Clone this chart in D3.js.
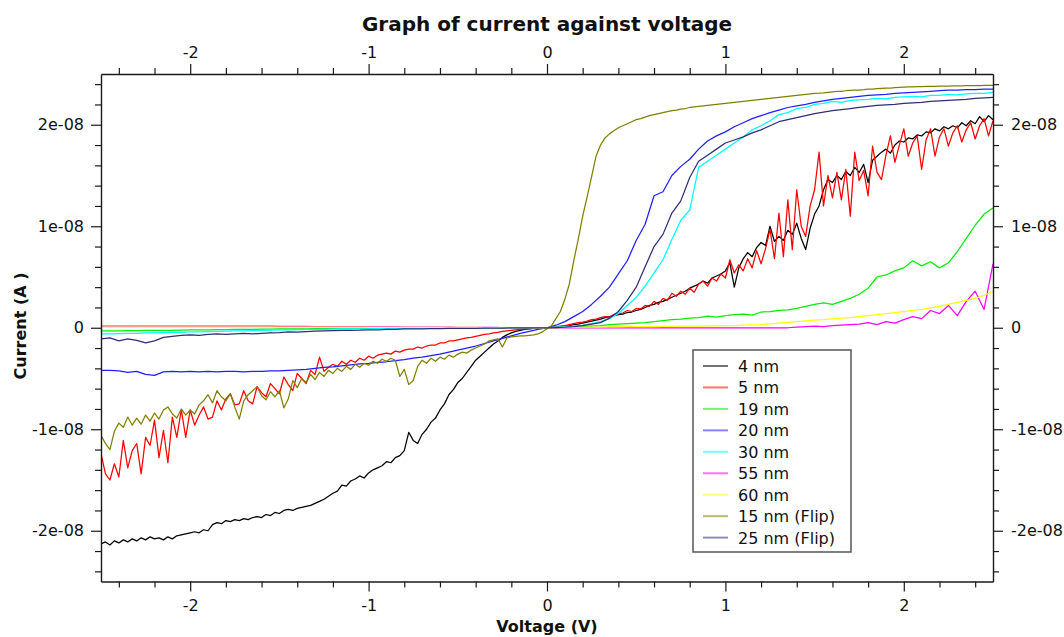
<!DOCTYPE html>
<html><head><meta charset="utf-8">
<script src="https://cdn.jsdelivr.net/npm/d3@7"></script>
<style>
html,body{margin:0;padding:0;background:#fff;}
svg text{font-family:"DejaVu Sans",Verdana,sans-serif;fill:#111;}
</style></head><body>
<svg id="chart" width="1064" height="637"></svg>
<script>
// ---------------- DATA (current in nA = 1e-9 A) ----------------
const voltage = [
-2.5,-2.45,-2.4,-2.35,-2.3,-2.25,-2.2,-2.15,-2.1,-2.05,
-2,-1.95,-1.9,-1.85,-1.8,-1.75,-1.7,-1.65,-1.6,-1.55,
-1.5,-1.45,-1.4,-1.35,-1.3,-1.25,-1.2,-1.15,-1.1,-1.05,
-1,-0.95,-0.9,-0.85,-0.8,-0.75,-0.7,-0.65,-0.6,-0.55,
-0.5,-0.45,-0.4,-0.35,-0.3,-0.25,-0.2,-0.15,-0.1,-0.05,
0,
0.05,0.1,0.15,0.2,0.25,0.3,0.35,0.4,0.45,0.5,
0.55,0.6,0.65,0.7,0.75,0.8,0.85,0.9,0.95,1,
1.05,1.1,1.15,1.2,1.25,1.3,1.35,1.4,1.45,1.5,
1.55,1.6,1.65,1.7,1.75,1.8,1.85,1.9,1.95,2,
2.05,2.1,2.15,2.2,2.25,2.3,2.35,2.4,2.45,2.5];

const voltageFine = [
-2.5,-2.475,-2.45,-2.425,-2.4,-2.375,-2.35,-2.325,-2.3,-2.275,
-2.25,-2.225,-2.2,-2.175,-2.15,-2.125,-2.1,-2.075,-2.05,-2.025,
-2,-1.975,-1.95,-1.925,-1.9,-1.875,-1.85,-1.825,-1.8,-1.775,
-1.75,-1.725,-1.7,-1.675,-1.65,-1.625,-1.6,-1.575,-1.55,-1.525,
-1.5,-1.475,-1.45,-1.425,-1.4,-1.375,-1.35,-1.325,-1.3,-1.275,
-1.25,-1.225,-1.2,-1.175,-1.15,-1.125,-1.1,-1.075,-1.05,-1.025,
-1,-0.975,-0.95,-0.925,-0.9,-0.875,-0.85,-0.825,-0.8,-0.775,
-0.75,-0.725,-0.7,-0.675,-0.65,-0.625,-0.6,-0.575,-0.55,-0.525,
-0.5,-0.475,-0.45,-0.425,-0.4,-0.375,-0.35,-0.325,-0.3,-0.275,
-0.25,-0.225,-0.2,-0.175,-0.15,-0.125,-0.1,-0.075,-0.05,-0.025,
0,0.025,0.05,0.075,0.1,0.125,0.15,0.175,0.2,0.225,
0.25,0.275,0.3,0.325,0.35,0.375,0.4,0.425,0.45,0.475,
0.5,0.525,0.55,0.575,0.6,0.625,0.65,0.675,0.7,0.725,
0.75,0.775,0.8,0.825,0.85,0.875,0.9,0.925,0.95,0.975,
1,1.025,1.05,1.075,1.1,1.125,1.15,1.175,1.2,1.225,
1.25,1.275,1.3,1.325,1.35,1.375,1.4,1.425,1.45,1.475,
1.5,1.525,1.55,1.575,1.6,1.625,1.65,1.675,1.7,1.725,
1.75,1.775,1.8,1.825,1.85,1.875,1.9,1.925,1.95,1.975,
2,2.025,2.05,2.075,2.1,2.125,2.15,2.175,2.2,2.225,
2.25,2.275,2.3,2.325,2.35,2.375,2.4,2.425,2.45,2.475,
2.5];

// fine-sampled series
const current4nm = [
-21.3,-21.1,-21.4,-21.0,-21.2,-20.9,-21.1,-20.8,-21.0,-20.7,
-20.9,-20.6,-20.8,-20.7,-20.9,-20.6,-20.8,-20.5,-20.4,-20.3,
-20.2,-20.1,-20.2,-19.9,-20.0,-19.4,-19.2,-19.3,-19.0,-19.1,
-18.9,-19.0,-18.8,-18.9,-18.7,-18.6,-18.7,-18.4,-18.5,-18.2,
-18.3,-18.0,-17.9,-18.0,-17.8,-17.7,-17.6,-17.5,-17.3,-17.1,
-16.9,-16.6,-16.3,-16.1,-15.5,-15.6,-15.1,-14.9,-14.6,-14.8,
-14.3,-14.0,-13.8,-13.6,-13.2,-13.3,-12.8,-12.6,-12.1,-10.3,
-11.1,-11.4,-10.5,-10.0,-9.3,-8.9,-8.1,-7.5,-6.6,-6.1,
-5.4,-5.0,-4.4,-3.8,-3.2,-2.8,-2.4,-2.0,-1.6,-1.3,
-0.95,-0.7,-0.5,-0.35,-0.25,-0.15,-0.1,-0.06,-0.03,-0.01,
0,0.02,0.05,0.1,0.15,0.2,0.3,0.35,0.45,0.55,
0.65,0.75,0.85,1.0,1.1,1.2,1.3,1.35,1.5,1.55,
1.7,1.8,2.0,2.2,2.3,2.5,2.6,2.8,3.0,3.2,
3.4,3.6,3.9,4.1,4.3,4.6,4.4,4.9,5.1,5.3,
5.6,6.4,4.0,5.9,6.8,7.4,7.0,7.9,8.4,8.1,
10.0,8.5,9.0,8.6,9.6,9.2,10.3,8.8,7.7,9.8,
11.2,12.0,13.6,14.6,14.3,15.0,14.6,15.4,15.0,15.8,
15.3,16.1,14.3,16.5,16.9,17.3,17.6,17.2,18.0,18.4,
18.3,18.7,18.6,19.0,18.9,19.3,19.2,19.6,19.4,19.8,
19.6,19.9,19.7,20.2,19.9,20.4,20.1,20.8,20.3,20.9,
20.5];

const current5nm = [
-12.4,-14.4,-15.0,-13.4,-14.7,-11.1,-13.8,-12.1,-11.4,-14.4,
-10.8,-11.6,-9.1,-12.8,-10.1,-13.3,-8.8,-10.8,-8.1,-10.8,
-8.1,-9.6,-8.6,-7.8,-9.0,-8.8,-7.2,-8.1,-7.0,-6.5,
-7.6,-7.5,-6.2,-7.2,-7.5,-5.8,-6.4,-6.8,-5.5,-6.0,
-6.5,-4.85,-5.6,-6.2,-4.5,-5.0,-5.5,-4.2,-4.6,-2.9,
-4.3,-3.9,-3.6,-3.8,-3.3,-3.6,-3.2,-3.4,-3.0,-3.2,
-2.8,-3.0,-2.7,-2.6,-2.5,-2.6,-2.3,-2.4,-2.2,-2.1,
-2.1,-1.9,-2.0,-1.8,-1.7,-1.7,-1.5,-1.5,-1.3,-1.3,
-1.2,-1.1,-1.0,-0.95,-0.85,-0.75,-0.65,-0.6,-0.5,-0.45,
-0.35,-0.3,-0.25,-0.2,-0.15,-0.1,-0.08,-0.05,-0.03,-0.01,
0,0.03,0.08,0.15,0.2,0.3,0.4,0.5,0.55,0.65,
0.8,0.85,1.0,1.1,1.05,1.3,1.4,1.45,1.7,1.6,
1.9,1.85,2.2,2.1,2.6,2.3,2.9,2.7,3.4,3.1,
3.6,3.3,3.9,3.5,4.3,4.6,4.1,4.9,4.6,5.3,
4.9,6.7,5.4,6.2,5.6,6.8,5.9,7.6,6.3,7.8,
9.7,6.8,11.3,7.0,12.6,7.7,13.6,10.0,9.0,12.0,
13.6,17.3,12.0,15.0,12.8,15.3,12.6,15.6,11.0,17.3,
14.5,15.5,13.0,17.9,15.3,14.6,17.0,18.9,16.3,18.0,
19.6,16.9,18.2,18.9,15.6,18.5,19.6,16.9,18.8,19.6,
17.9,19.2,19.9,18.3,19.5,20.2,18.6,19.9,20.6,18.9,
20.4];

const current15nmFlip = [
-10.6,-11.4,-12.0,-10.2,-9.4,-9.8,-8.8,-9.6,-8.9,-9.5,
-8.6,-9.2,-8.4,-9.0,-8.1,-7.8,-8.5,-8.9,-8.0,-8.6,
-8.1,-8.5,-7.6,-7.2,-6.6,-7.4,-6.2,-6.8,-7.2,-6.5,
-7.8,-9.0,-7.2,-6.6,-6.2,-5.8,-6.7,-7.1,-6.3,-6.8,
-6.2,-7.9,-7.0,-5.2,-5.9,-5.0,-5.4,-4.6,-5.1,-4.4,
-4.8,-4.2,-4.5,-4.0,-4.3,-3.8,-4.1,-3.6,-3.9,-3.5,
-3.7,-3.3,-3.5,-3.1,-3.3,-3.0,-3.2,-4.8,-4.1,-5.6,
-5.2,-3.8,-3.2,-3.5,-3.0,-3.3,-2.9,-3.1,-2.7,-2.9,
-2.6,-2.4,-2.5,-2.2,-2.0,-1.8,-1.6,-1.3,-1.2,-1.1,
-1.9,-1.0,-0.9,-0.85,-0.8,-0.8,-0.75,-0.7,-0.6,-0.4,
-0.1,0.2,0.9,1.6,2.8,4.3,6.6,8.7,11.0,12.9,
14.9,16.9,18.0,18.7,19.1,19.4,19.7,19.9,20.1,20.3,
20.5,20.6,20.75,20.9,21.0,21.1,21.2,21.3,21.4,21.45,
21.55,21.6,21.7,21.75,21.8,21.85,21.9,21.95,22.0,22.05,
22.1,22.15,22.2,22.25,22.3,22.35,22.4,22.45,22.5,22.55,
22.6,22.65,22.7,22.75,22.8,22.85,22.9,22.95,23.0,23.05,
23.1,23.12,23.15,23.2,23.25,23.28,23.3,23.35,23.38,23.4,
23.42,23.45,23.5,23.52,23.55,23.58,23.6,23.62,23.65,23.68,
23.7,23.72,23.73,23.75,23.76,23.77,23.78,23.79,23.8,23.8,
23.81,23.82,23.83,23.84,23.85,23.85,23.86,23.86,23.87,23.87,
23.88];

// coarse-sampled series
const current19nm = [
-0.3,-0.3,-0.3,-0.28,-0.28,-0.27,-0.26,-0.25,-0.25,-0.24,
-0.22,-0.21,-0.2,-0.19,-0.18,-0.17,-0.16,-0.15,-0.14,-0.13,
-0.12,-0.11,-0.1,-0.1,-0.09,-0.08,-0.07,-0.07,-0.06,-0.06,
-0.05,-0.05,-0.04,-0.04,-0.04,-0.03,-0.03,-0.03,-0.02,-0.02,
-0.02,-0.02,-0.01,-0.01,-0.01,-0.01,0,0,0,0,
0,
0.02,0.05,0.08,0.1,0.15,0.2,0.3,0.35,0.4,0.45,
0.5,0.6,0.7,0.8,0.85,0.95,1.0,1.15,1.05,1.2,
1.3,1.35,1.25,1.55,1.6,1.7,1.75,1.9,2.1,2.3,
2.45,2.3,2.6,2.9,3.3,3.9,5.0,5.2,5.6,5.9,
6.6,6.1,6.5,5.9,6.4,7.5,8.8,10.1,11.2,11.8];

const current20nm = [
-4.2,-4.2,-4.25,-4.4,-4.3,-4.6,-4.7,-4.35,-4.3,-4.35,
-4.3,-4.35,-4.3,-4.35,-4.3,-4.3,-4.35,-4.3,-4.3,-4.25,
-4.25,-4.2,-4.15,-4.1,-4.0,-3.9,-3.85,-3.75,-3.65,-3.55,
-3.5,-3.4,-3.35,-3.25,-3.15,-3.0,-2.9,-2.75,-2.6,-2.4,
-2.2,-2.0,-1.8,-1.55,-1.3,-1.05,-0.8,-0.55,-0.35,-0.15,
0,
0.25,0.6,1.1,1.6,2.3,3.1,4.0,5.3,6.6,8.6,
10.2,13.0,13.4,15.0,15.9,16.6,17.6,18.4,18.9,19.3,
19.8,20.2,20.6,20.9,21.2,21.45,21.7,21.85,22.0,22.2,
22.35,22.5,22.6,22.7,22.8,22.9,22.95,23.0,23.1,23.15,
23.2,23.25,23.3,23.35,23.4,23.4,23.45,23.45,23.5,23.5];

const current30nm = [
-0.6,-0.6,-0.58,-0.55,-0.55,-0.5,-0.5,-0.48,-0.45,-0.45,
-0.4,-0.4,-0.38,-0.35,-0.33,-0.3,-0.3,-0.28,-0.25,-0.23,
-0.2,-0.2,-0.18,-0.17,-0.15,-0.15,-0.13,-0.12,-0.11,-0.1,
-0.1,-0.09,-0.08,-0.08,-0.07,-0.06,-0.06,-0.05,-0.05,-0.04,
-0.04,-0.03,-0.03,-0.02,-0.02,-0.02,-0.01,-0.01,-0.01,0,
0,
0.05,0.1,0.15,0.25,0.4,0.6,0.9,1.4,2.2,3.0,
4.1,5.4,6.7,8.7,10.6,11.6,15.8,16.4,17.0,17.6,
18.2,18.8,19.5,19.9,20.4,21.0,21.2,21.6,21.7,22.0,
22.1,22.3,22.2,22.4,22.45,22.5,22.6,22.55,22.7,22.75,
22.8,22.75,22.9,22.9,23.0,22.95,23.05,23.1,23.1,23.2];

const current55nm = [
0.15,0.15,0.15,0.15,0.15,0.15,0.15,0.15,0.15,0.15,
0.15,0.15,0.15,0.15,0.15,0.15,0.15,0.15,0.15,0.15,
0.14,0.14,0.13,0.13,0.12,0.12,0.11,0.11,0.1,0.1,
0.09,0.09,0.08,0.08,0.07,0.07,0.06,0.06,0.05,0.05,
0.04,0.04,0.03,0.03,0.03,0.02,0.02,0.01,0.01,0,
0,
0,0,0,0,0,0,0,0,0,0,
0,0,0,0,0,0,0,0,0,0,
0,0,0,0,0,0,0,0.05,0.1,0.15,
0.1,0.2,0.25,0.3,0.35,0.5,0.3,0.6,0.45,0.8,
1.1,0.9,1.7,1.4,2.2,1.2,2.6,3.6,1.8,6.3];

const current60nm = [
0.06,0.06,0.06,0.06,0.06,0.06,0.06,0.06,0.06,0.06,
0.06,0.06,0.06,0.06,0.06,0.06,0.06,0.06,0.06,0.06,
0.05,0.05,0.05,0.05,0.05,0.05,0.05,0.05,0.05,0.05,
0.04,0.04,0.04,0.04,0.04,0.04,0.04,0.04,0.04,0.04,
0.03,0.03,0.03,0.02,0.02,0.02,0.01,0.01,0.01,0,
0,
0.02,0.03,0.04,0.05,0.06,0.07,0.08,0.09,0.1,0.1,
0.11,0.12,0.13,0.14,0.15,0.16,0.17,0.18,0.19,0.2,
0.22,0.25,0.28,0.32,0.38,0.45,0.52,0.6,0.68,0.75,
0.8,0.88,0.95,1.0,1.1,1.2,1.3,1.4,1.5,1.6,
1.7,1.8,1.95,2.1,2.3,2.5,2.7,2.9,3.2,3.6];

const current25nmFlip = [
-1.1,-1.0,-1.3,-1.1,-1.25,-1.5,-1.3,-0.95,-0.85,-0.75,
-0.7,-0.75,-0.65,-0.6,-0.65,-0.6,-0.55,-0.6,-0.55,-0.5,
-0.48,-0.4,-0.42,-0.38,-0.33,-0.3,-0.28,-0.27,-0.25,-0.24,
-0.2,-0.2,-0.15,-0.15,-0.12,-0.1,-0.1,-0.08,-0.08,-0.07,
-0.06,-0.05,-0.05,-0.04,-0.03,-0.03,-0.02,-0.02,-0.01,0,
0,
0.02,0.05,0.1,0.2,0.35,0.5,0.95,1.6,2.7,4.0,
6.0,8.0,9.2,11.3,12.5,14.8,16.4,17.0,17.6,18.2,
18.5,18.8,19.2,19.5,19.9,20.3,20.5,20.7,20.9,21.1,
21.25,21.4,21.5,21.6,21.7,21.8,21.9,21.95,22.0,22.1,
22.15,22.2,22.3,22.35,22.4,22.45,22.5,22.6,22.65,22.7];

const seriesLabels = ["4 nm","5 nm","19 nm","20 nm","30 nm","55 nm","60 nm","15 nm (Flip)","25 nm (Flip)"];
const seriesColors = ["#000000","#ff0000","#00f000","#2020ff","#00ffff","#ff00ff","#ffff00","#808000","#2e2e78"];
const seriesCurrents = [current4nm,current5nm,current19nm,current20nm,current30nm,current55nm,current60nm,current15nmFlip,current25nmFlip];
const seriesVoltages = [voltageFine,voltageFine,voltage,voltage,voltage,voltage,voltage,voltageFine,voltage];

const xTickValues = [-2,-1,0,1,2];
const xTickLabels = ["-2","-1","0","1","2"];
const yTickValues = [-2e-8,-1e-8,0,1e-8,2e-8];
const yTickLabels = ["-2e-08","-1e-08","0","1e-08","2e-08"];

// ---------------- CHART ----------------
const svg = d3.select("#chart");
const L = 101, R = 993, T = 74, B = 581.5;
const x = d3.scaleLinear().domain([-2.5, 2.5]).range([L, R]);
const y = d3.scaleLinear().domain([-2.5e-8, 2.5e-8]).range([B, T]);
const nA = 1e-9;

svg.append("rect").attr("width",1064).attr("height",637).attr("fill","#fff");
svg.append("defs").append("clipPath").attr("id","plotclip")
  .append("rect").attr("x",L).attr("y",T).attr("width",R-L).attr("height",B-T);

const xMinor = d3.range(-24, 25, 2).map(v => v/10).filter(v => Math.abs(v - Math.round(v)) > 1e-9);
const yMinor = d3.range(-24, 25, 2).filter(v => v % 10 !== 0).map(v => v*1e-9);

function styleAxis(g){
  g.selectAll("path.domain").attr("stroke","#1a1a1a").attr("stroke-width",1.4);
  g.selectAll(".tick line").attr("stroke","#1a1a1a").attr("stroke-width",1.2);
  g.selectAll(".tick text").attr("font-size",16).attr("font-family","DejaVu Sans, Verdana, sans-serif").attr("fill","#111");
}
function minorAxis(gen, tr){
  const g = svg.append("g").attr("transform",tr).call(gen);
  g.select("path.domain").remove();
  g.selectAll(".tick line").attr("stroke","#1a1a1a").attr("stroke-width",1.2);
  g.selectAll(".tick text").remove();
}
const xfmt = d => xTickLabels[xTickValues.indexOf(d)];
const yfmt = d => yTickLabels[yTickValues.indexOf(d)];

// data lines
const plot = svg.append("g").attr("clip-path","url(#plotclip)");
const line = d3.line().x(d => x(d[0])).y(d => y(d[1]*nA)).curve(d3.curveLinear);
seriesCurrents.forEach((cur, i) => {
  const pts = seriesVoltages[i].map((v, j) => [v, cur[j]]);
  plot.append("path").datum(pts)
    .attr("d", line).attr("fill","none")
    .attr("stroke", seriesColors[i]).attr("stroke-width",1.25)
    .attr("stroke-linejoin","round");
});

// axes
styleAxis(svg.append("g").attr("transform",`translate(0,${B})`)
  .call(d3.axisBottom(x).tickValues(xTickValues).tickFormat(xfmt).tickSize(10).tickSizeOuter(0).tickPadding(8)));
styleAxis(svg.append("g").attr("transform",`translate(0,${T})`)
  .call(d3.axisTop(x).tickValues(xTickValues).tickFormat(xfmt).tickSize(10).tickSizeOuter(0).tickPadding(6)));
styleAxis(svg.append("g").attr("transform",`translate(${L},0)`)
  .call(d3.axisLeft(y).tickValues(yTickValues).tickFormat(yfmt).tickSize(10).tickSizeOuter(0).tickPadding(7)));
styleAxis(svg.append("g").attr("transform",`translate(${R},0)`)
  .call(d3.axisRight(y).tickValues(yTickValues).tickFormat(yfmt).tickSize(10).tickSizeOuter(0).tickPadding(8)));
minorAxis(d3.axisBottom(x).tickValues(xMinor).tickSize(6), `translate(0,${B})`);
minorAxis(d3.axisTop(x).tickValues(xMinor).tickSize(6), `translate(0,${T})`);
minorAxis(d3.axisLeft(y).tickValues(yMinor).tickSize(6), `translate(${L},0)`);
minorAxis(d3.axisRight(y).tickValues(yMinor).tickSize(6), `translate(${R},0)`);

// titles
svg.append("text").attr("x",547).attr("y",31).attr("text-anchor","middle")
  .attr("font-size",20).attr("font-weight","bold").text("Graph of current against voltage");
svg.append("text").attr("x",547).attr("y",632).attr("text-anchor","middle")
  .attr("font-size",16).attr("font-weight","bold").text("Voltage (V)");
svg.append("text").attr("transform","translate(25.5,326) rotate(-90)").attr("text-anchor","middle")
  .attr("font-size",16).attr("font-weight","bold").text("Current (A )");

// legend
const lg = svg.append("g");
lg.append("rect").attr("x",693).attr("y",350).attr("width",158).attr("height",202)
  .attr("fill","#fff").attr("stroke","#555").attr("stroke-width",1.5);
seriesLabels.forEach((lab, i) => {
  const cy = 366 + i*21.45;
  lg.append("line").attr("x1",703).attr("x2",728).attr("y1",cy).attr("y2",cy)
    .attr("stroke",seriesColors[i]).attr("stroke-width",2).attr("stroke-opacity",0.55);
  lg.append("text").attr("x",738).attr("y",cy+6).attr("font-size",16).text(lab);
});
</script>
</body></html>
